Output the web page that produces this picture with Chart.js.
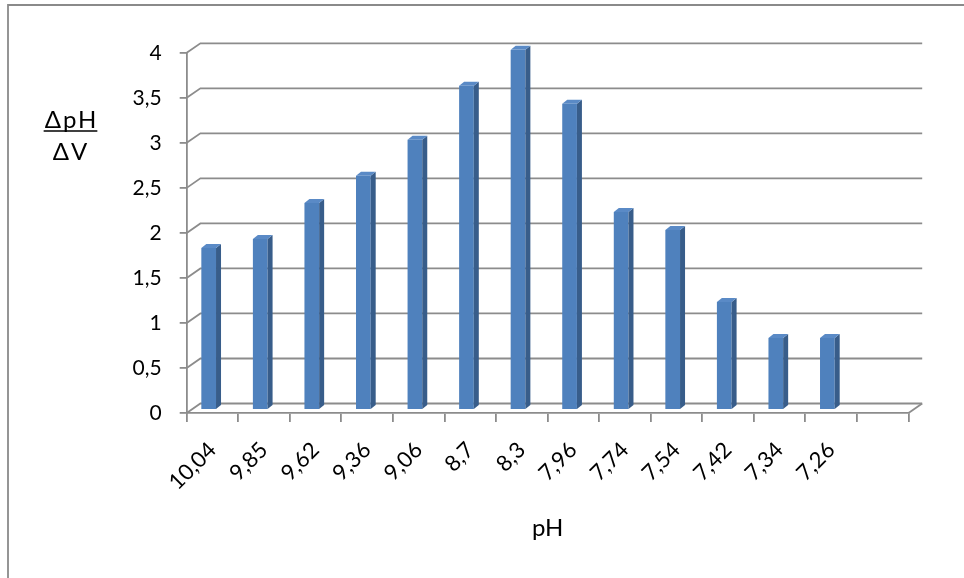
<!DOCTYPE html>
<html lang="en">
<head>
  <meta charset="UTF-8">
  <title>ΔpH / ΔV</title>
  <style>
    body {
      margin: 0;
      padding: 0;
      background: #fff;
    }

    #wrap {
      width: 964px;
      height: 578px;
    }
  </style>
</head>
<body>
  <div id="wrap">
    <canvas id="graph" width="964" height="578"></canvas>
  </div>

  <script src="https://cdn.jsdelivr.net/npm/chart.js"></script>
  <script>
    // data
    const phLabels = ['10,04', '9,85', '9,62', '9,36', '9,06', '8,7', '8,3', '7,96', '7,74', '7,54', '7,42', '7,34', '7,26', ''];
    const slopeValues = [1.8, 1.9, 2.3, 2.6, 3.0, 3.6, 4.0, 3.4, 2.2, 2.0, 1.2, 0.8, 0.8, null];
    const yMin = 0;
    const yMax = 4;
    const yStep = 0.5;

    // 3D look (px)
    const wall = { dx: 13.7, dy: -9.5 };
    const barShift = { dx: -3.8, dy: -3 };
    const barDepth = { dx: 5, dy: -4 };
    const gridColor = '#8c8c8c';
    const gridWidth = 1.8;
    const font = 'Lato, Calibri, sans-serif';

    const excel3d = {
      id: 'excel3d',
      beforeDraw(chart) {
        const ctx = chart.ctx;
        ctx.save();
        ctx.strokeStyle = '#8a8a8a';
        ctx.lineWidth = 1.8;
        ctx.beginPath();
        ctx.moveTo(8, 578);
        ctx.lineTo(8, 5);
        ctx.lineTo(964, 5);
        ctx.stroke();
        ctx.restore();
      },
      beforeDatasetsDraw(chart) {
        const { ctx, chartArea: a, scales: { y } } = chart;
        ctx.save();
        ctx.strokeStyle = gridColor;
        ctx.lineWidth = gridWidth;
        y.ticks.forEach(t => {
          const py = y.getPixelForValue(t.value);
          ctx.beginPath();
          ctx.moveTo(a.left, py);
          ctx.lineTo(a.left + wall.dx, py + wall.dy);
          ctx.lineTo(a.right + wall.dx, py + wall.dy);
          ctx.stroke();
        });
        // right edge of the floor
        ctx.beginPath();
        ctx.moveTo(a.right, a.bottom);
        ctx.lineTo(a.right + wall.dx, a.bottom + wall.dy);
        ctx.stroke();
        ctx.restore();

        ctx.save();
        ctx.translate(barShift.dx, barShift.dy);
      },
      afterDatasetsDraw(chart) {
        const ctx = chart.ctx;
        const meta = chart.getDatasetMeta(0);
        meta.data.forEach((bar, i) => {
          if (slopeValues[i] == null) return;
          const { x, y, base, width } = bar.getProps(['x', 'y', 'base', 'width'], true);
          const l = x - width / 2;
          const r = x + width / 2;
          // side
          ctx.fillStyle = '#385d8a';
          ctx.beginPath();
          ctx.moveTo(r, y);
          ctx.lineTo(r + barDepth.dx, y + barDepth.dy);
          ctx.lineTo(r + barDepth.dx, base + barDepth.dy);
          ctx.lineTo(r, base);
          ctx.closePath();
          ctx.fill();
          // top
          ctx.fillStyle = '#5a8ac6';
          ctx.beginPath();
          ctx.moveTo(l, y);
          ctx.lineTo(l + barDepth.dx, y + barDepth.dy);
          ctx.lineTo(r + barDepth.dx, y + barDepth.dy);
          ctx.lineTo(r, y);
          ctx.closePath();
          ctx.fill();
        });
        ctx.restore();

        // y axis title: dpH over dV
        ctx.save();
        ctx.fillStyle = '#000';
        ctx.font = '24px ' + font;
        ctx.letterSpacing = '2px';
        ctx.textAlign = 'center';
        ctx.textBaseline = 'alphabetic';
        ctx.fillText('ΔpH', 71.5, 128);
        ctx.fillText('ΔV', 71, 160);
        const w = ctx.measureText('ΔpH').width;
        ctx.strokeStyle = '#000';
        ctx.lineWidth = 1.5;
        ctx.beginPath();
        ctx.moveTo(70.5 - w / 2, 131);
        ctx.lineTo(70.5 + w / 2, 131);
        ctx.stroke();
        ctx.restore();
      }
    };

    const ctx = document.getElementById('graph').getContext('2d');
    const chart = new Chart(ctx, {
      type: 'bar',
      data: {
        labels: phLabels,
        datasets: [{
          data: slopeValues,
          backgroundColor: '#4f81bd',
          borderWidth: 0,
          categoryPercentage: 1,
          barPercentage: 0.285
        }]
      },
      options: {
        responsive: false,
        animation: false,
        layout: {
          padding: { left: 0, top: 52.8, right: 55.5, bottom: 0 }
        },
        plugins: {
          legend: { display: false },
          tooltip: { enabled: false }
        },
        scales: {
          x: {
            grid: {
              offset: true,
              drawOnChartArea: false,
              tickLength: 9,
              color: gridColor,
              lineWidth: gridWidth
            },
            border: { display: true, color: gridColor, width: gridWidth },
            ticks: {
              autoSkip: false,
              minRotation: 45,
              maxRotation: 45,
              padding: 15,
              labelOffset: 0,
              color: '#000',
              font: { family: font, size: 22 }
            },
            title: {
              display: true,
              text: 'pH',
              color: '#000',
              font: { family: font, size: 24 },
              padding: { top: 0, bottom: 35 }
            },
            afterFit: s => { s.height = 165; }
          },
          y: {
            min: yMin,
            max: yMax,
            ticks: {
              stepSize: yStep,
              padding: 18,
              color: '#000',
              font: { family: font, size: 21 },
              callback: v => String(v).replace('.', ',')
            },
            grid: {
              drawOnChartArea: false,
              tickLength: 7,
              color: gridColor,
              lineWidth: gridWidth
            },
            border: { display: true, color: gridColor, width: gridWidth },
            afterFit: s => { s.width = 186.7; }
          }
        }
      },
      plugins: [excel3d]
    });
  </script>
</body>
</html>
